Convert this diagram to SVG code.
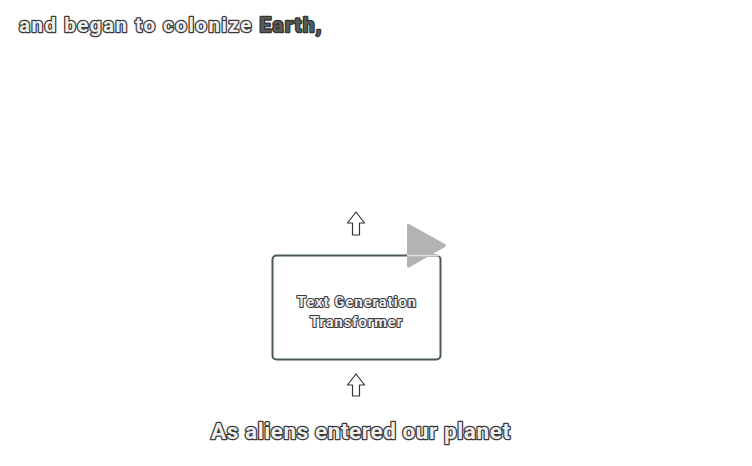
<svg xmlns="http://www.w3.org/2000/svg" width="752" height="466" viewBox="0 0 752 466">
<style>
.t{font-family:Roboto,"Liberation Sans",sans-serif;font-weight:bold;fill:#efefef;stroke:#3a3a3a;stroke-width:2.6;paint-order:stroke;stroke-linejoin:round}
.dark{fill:#5a5a5a;stroke:#333}
.arr{fill:#fff;stroke:#333;stroke-width:1.2;stroke-linejoin:round}
</style>
<rect width="752" height="466" fill="#fff"/>
<g id="caption-top"><text class="t" x="19" y="32" font-size="20.5" textLength="302" lengthAdjust="spacing">and began to colonize <tspan class="dark">Earth,</tspan></text></g>
<g id="caption-bottom"><text class="t" x="211" y="439" font-size="22.5" textLength="299" lengthAdjust="spacing">As aliens entered our planet</text></g>
<g id="connectors">
<path class="arr" d="M356,212 L364.5,223 L359.5,223 L359.5,235 L352.5,235 L352.5,223 L347.5,223 Z"/>
<path class="arr" d="M356,374 L364.5,385 L359.5,385 L359.5,396 L352.5,396 L352.5,385 L347.5,385 Z"/>
</g>
<g id="transformer">
<rect x="272.5" y="255.5" width="168" height="104" rx="4" fill="#fff" stroke="#4a5a55" stroke-width="2"/>
<text class="t" x="297" y="307" font-size="14.5" textLength="119" lengthAdjust="spacing" style="stroke-width:2.2">Text Generation</text>
<text class="t" x="310" y="327" font-size="14.5" textLength="92" lengthAdjust="spacing" style="stroke-width:2.2">Transformer</text>
</g>
<g id="play">
<path d="M409,224 Q407,223 407,226 L407,266 Q407,269 410,267 L445,247 Q447,245 445,244 Z" fill="#b3b3b3"/>
<line x1="407" y1="255.5" x2="440" y2="255.5" stroke="#e0e0e0" stroke-width="1.5"/>
</g>
</svg>
